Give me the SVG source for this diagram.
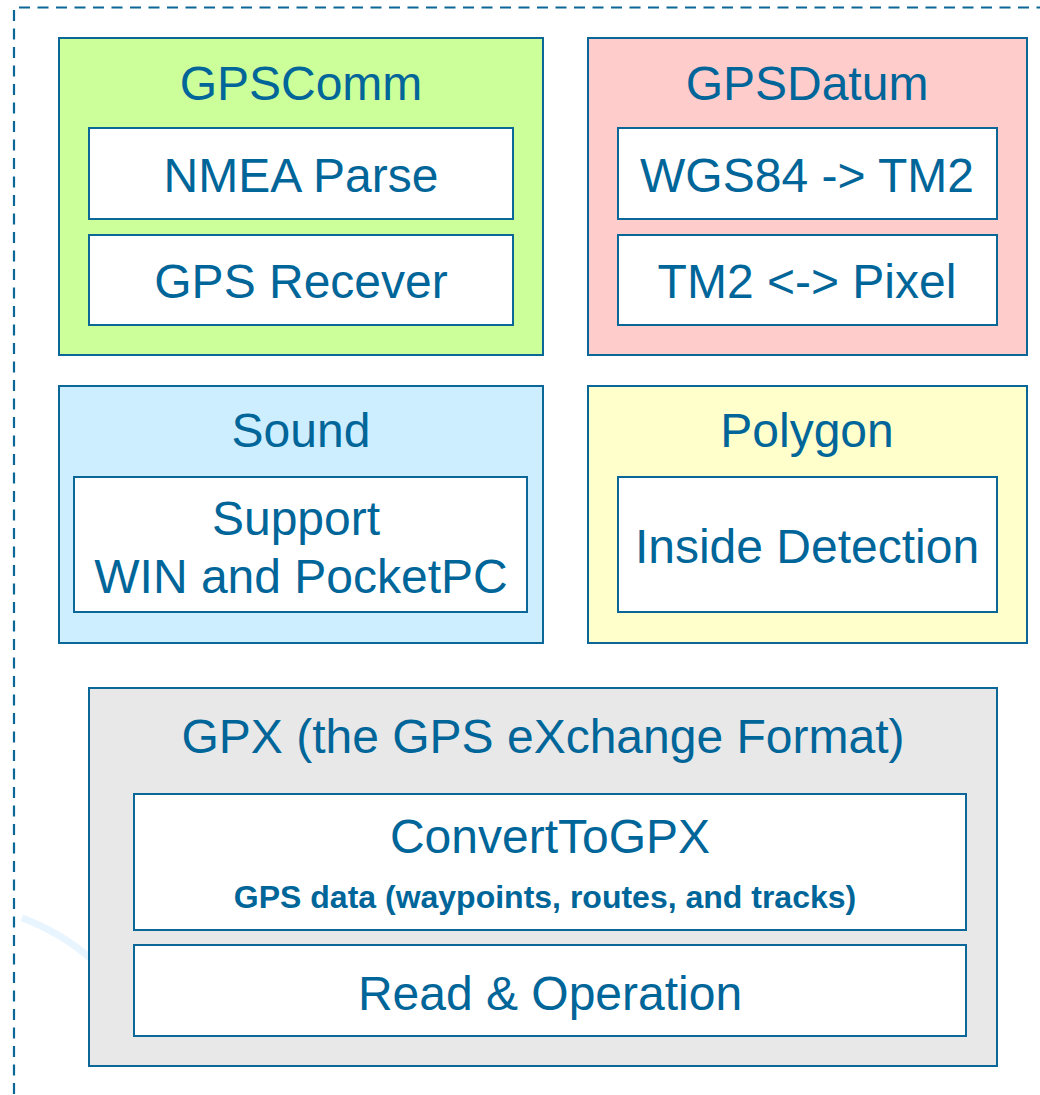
<svg xmlns="http://www.w3.org/2000/svg" width="1040" height="1095" viewBox="0 0 1040 1095">
<style>
.box{stroke:#0b6797;stroke-width:2}
.inner{fill:#ffffff;stroke:#0b6797;stroke-width:2}
text{font-family:"Liberation Sans",Arial,sans-serif;fill:#006699;text-anchor:middle}
.t{font-size:48px}
.b{font-size:32px;font-weight:bold}
.dash{stroke:#0b6797;stroke-width:2.2;stroke-dasharray:11 7.5;fill:none}
</style>
<rect width="1040" height="1095" fill="#ffffff"/>
<g id="frame">
<line class="dash" x1="19" y1="7.5" x2="1040" y2="7.5"/>
<line class="dash" x1="14" y1="10" x2="14" y2="1095"/>
<path d="M22,918 Q60,932 90,958" fill="none" stroke="#e8f5ff" stroke-width="7"/>
</g>
<g id="connectors"/>
<g id="gpscomm">
<rect class="box" x="59" y="38" width="484" height="317" fill="#ccff99"/>
<text class="t" x="301" y="100">GPSComm</text>
<g id="nmea"><rect class="inner" x="89" y="128" width="424" height="91"/><text class="t" x="301" y="192">NMEA Parse</text></g>
<g id="receiver"><rect class="inner" x="89" y="235" width="424" height="90"/><text class="t" x="301" y="298">GPS Recever</text></g>
</g>
<g id="gpsdatum">
<rect class="box" x="588" y="38" width="439" height="317" fill="#ffcccc"/>
<text class="t" x="807" y="100">GPSDatum</text>
<g id="wgs"><rect class="inner" x="618" y="128" width="379" height="91"/><text class="t" x="807" y="192">WGS84 -&gt; TM2</text></g>
<g id="tm2"><rect class="inner" x="618" y="235" width="379" height="90"/><text class="t" x="807" y="298">TM2 &lt;-&gt; Pixel</text></g>
</g>
<g id="sound">
<rect class="box" x="59" y="386" width="484" height="257" fill="#cceeff"/>
<text class="t" x="301" y="447">Sound</text>
<g id="support"><rect class="inner" x="74" y="477" width="453" height="135"/><text class="t" x="296" y="535">Support</text><text class="t" x="301" y="593">WIN and PocketPC</text></g>
</g>
<g id="polygon">
<rect class="box" x="588" y="386" width="439" height="257" fill="#ffffcc"/>
<text class="t" x="807" y="447">Polygon</text>
<g id="inside"><rect class="inner" x="618" y="477" width="379" height="135"/><text class="t" x="807" y="563">Inside Detection</text></g>
</g>
<g id="gpx">
<rect class="box" x="89" y="688" width="908" height="378" fill="#e8e8e8"/>
<text class="t" x="543" y="753">GPX (the GPS eXchange Format)</text>
<g id="convert"><rect class="inner" x="134" y="794" width="832" height="136"/><text class="t" x="550" y="853">ConvertToGPX</text><text class="b" x="545" y="908">GPS data (waypoints, routes, and tracks)</text></g>
<g id="read"><rect class="inner" x="134" y="945" width="832" height="91"/><text class="t" x="550" y="1010">Read &amp; Operation</text></g>
</g>
</svg>
